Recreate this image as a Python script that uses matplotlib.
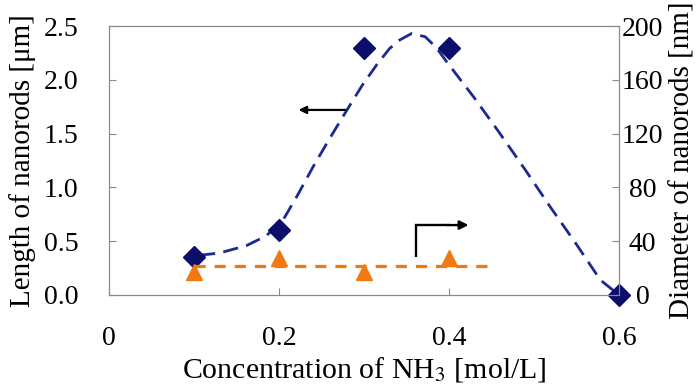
import matplotlib
matplotlib.use("Agg")
import matplotlib.pyplot as plt

# datos medidos
conc = [0.1, 0.2, 0.3, 0.4, 0.6]
longitud = [0.35, 0.60, 2.30, 2.30, 0.0]

conc_d = [0.1, 0.2, 0.3, 0.4]
diametro = [17, 27.5, 17, 27.5]

# curva de tendencia
curva_x = [0.107, 0.13, 0.162, 0.185, 0.205, 0.222, 0.240, 0.260, 0.280, 0.298,
           0.315, 0.330, 0.342, 0.356, 0.372, 0.385, 0.397, 0.43, 0.46, 0.49,
           0.519, 0.55, 0.578, 0.60]
curva_y = [0.37, 0.39, 0.46, 0.55, 0.70, 0.93, 1.19, 1.46, 1.72, 1.95,
           2.14, 2.29, 2.37, 2.43, 2.40, 2.30, 2.17, 1.83, 1.50, 1.16,
           0.82, 0.47, 0.14, 0.0]

tend_x = [0.1, 0.445]
tend_y = [21.6, 21.6]

xticks = [0, 0.2, 0.4, 0.6]
xtick_labels = ["0", "0.2", "0.4", "0.6"]
yticks_izq = [0.0, 0.5, 1.0, 1.5, 2.0, 2.5]
yticks_der = [0, 40, 80, 120, 160, 200]

plt.rcParams['font.family'] = ['Liberation Serif', 'DejaVu Serif']
plt.rcParams['mathtext.fontset'] = 'stix'

azul = '#0b0f6b'
azul_linea = '#1c2a8f'
naranja = '#f07a12'
gris = '#8a8a8a'

fig = plt.figure(figsize=(6.97, 3.85), dpi=100)
ax = fig.add_axes([109 / 697, 1 - 295 / 385, 510 / 697, 269 / 385])
ax2 = ax.twinx()

ax.plot(curva_x, curva_y, color=azul_linea, lw=2.0, dashes=(5.5, 3), zorder=2)
ax.plot(conc, longitud, 'D', color=azul, ms=11, clip_on=False, zorder=4)

ax2.plot(tend_x, tend_y, color=naranja, lw=2.3, dashes=(3.5, 2.8), zorder=2)
ax2.plot(conc_d, diametro, '^', color=naranja, ms=12, clip_on=False, zorder=3)

# flechas
ax.annotate('', xy=(0.223, 1.72), xytext=(0.278, 1.72),
            arrowprops=dict(arrowstyle='-|>', color='black', lw=1.6,
                            mutation_scale=11, shrinkA=0, shrinkB=0))
ax.plot([0.361, 0.361, 0.40], [0.35, 0.65, 0.65], color='black', lw=1.7,
        solid_capstyle='butt', solid_joinstyle='miter')
ax.annotate('', xy=(0.423, 0.65), xytext=(0.398, 0.65),
            arrowprops=dict(arrowstyle='-|>', color='black', lw=1.7,
                            mutation_scale=13, shrinkA=0, shrinkB=0))

ax.set_xlim(0, 0.6)
ax.set_ylim(0, 2.5)
ax2.set_ylim(0, 200)

ax.set_xticks(xticks)
ax.set_xticklabels(xtick_labels)
ax.set_yticks(yticks_izq)
ax.set_yticklabels([f'{v:.1f}' for v in yticks_izq])
ax2.set_yticks(yticks_der)
ax2.set_yticklabels([str(v) for v in yticks_der])

for a in (ax, ax2):
    for s in a.spines.values():
        s.set_color(gris)
        s.set_linewidth(0.8)

ax.tick_params(axis='x', direction='in', length=5, color=gris, labelsize=20, pad=22)
ax.tick_params(axis='y', direction='in', length=5, color=gris, labelsize=20, pad=22)
ax2.tick_params(axis='y', direction='in', length=5, color=gris, labelsize=20, pad=17)
for lab in ax2.get_yticklabels():
    lab.set_horizontalalignment('center')

ax.set_xlabel(r'Concentration of NH$_3$ [mol/L]', fontsize=21.5, labelpad=0)
ax.set_ylabel('Length of nanorods [μm]', fontsize=21, labelpad=2)
ax2.set_ylabel('Diameter of nanorods [nm]', fontsize=21, labelpad=6)
ax.xaxis.set_label_coords(0.5, -0.222)
ax.yaxis.set_label_coords(-0.143, 0.5)
ax2.yaxis.set_label_coords(1.10, 0.5)

fig.savefig('out.png', dpi=100)
